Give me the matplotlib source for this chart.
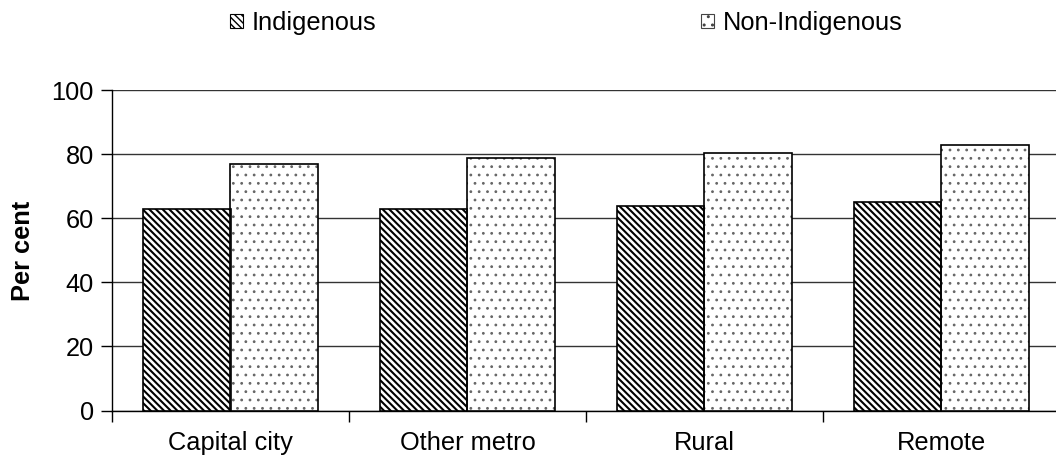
import matplotlib
matplotlib.use("Agg")
import matplotlib.pyplot as plt
import numpy as np
from matplotlib.patches import Patch

plt.rcParams['font.family'] = ['Liberation Sans', 'DejaVu Sans']

categories = ["Capital city", "Other metro", "Rural", "Remote"]
series_names = ["Indigenous", "Non-Indigenous"]
indigenous = [63, 63, 64, 65]
non_indigenous = [77, 79, 80.5, 83]
y_ticks = [0, 20, 40, 60, 80, 100]

FS = 18.3
STRIPES = "\\" * 5
DOTS = ".."

W, H = 1056, 461
fig = plt.figure(figsize=(W / 100, H / 100), dpi=100)
ax = fig.add_axes([112 / W, (H - 410.5) / H, 948 / W, 320.2 / H])

x = np.arange(len(categories))
bw = 0.37

# Indigenous: dense diagonal stripes
with plt.rc_context({'hatch.linewidth': 1.5}):
    ax.bar(x - bw / 2, indigenous, bw, color="white", edgecolor="black",
           hatch=STRIPES, linewidth=0, zorder=3)
    h1 = Patch(facecolor="white", edgecolor="black", hatch=STRIPES, linewidth=0.8)
ax.bar(x - bw / 2, indigenous, bw, fill=False, edgecolor="black",
       linewidth=1.2, zorder=4)

# Non-Indigenous: fine dotted fill
with plt.rc_context({'hatch.linewidth': 0.8}):
    ax.bar(x + bw / 2, non_indigenous, bw, color="white", edgecolor="#666666",
           hatch=DOTS, linewidth=0, zorder=3)
    h2 = Patch(facecolor="white", edgecolor="#444444", hatch=DOTS, linewidth=0.8)
ax.bar(x + bw / 2, non_indigenous, bw, fill=False, edgecolor="black",
       linewidth=1.2, zorder=4)

ax.set_xlim(-0.5, len(categories) - 0.5)
ax.set_ylim(0, 100)
ax.set_yticks(y_ticks)
ax.set_yticklabels([str(v) for v in y_ticks])
ax.yaxis.grid(True, color="#333333", linewidth=1.0, zorder=0)
ax.set_axisbelow(True)

ax.set_xticks(np.arange(len(categories) + 1) - 0.5)
ax.set_xticklabels([])
ax.set_xticks(x, minor=True)
ax.set_xticklabels(categories, minor=True)
ax.tick_params(axis="x", which="major", length=8, width=1.0, direction="out")
ax.tick_params(axis="x", which="minor", length=0, pad=15, labelsize=FS)
ax.tick_params(axis="y", length=8, width=1.0, direction="out", pad=5, labelsize=FS)

for s in ["top", "right"]:
    ax.spines[s].set_visible(False)
ax.spines["left"].set_linewidth(1.0)
ax.spines["bottom"].set_linewidth(1.0)

ax.set_ylabel("Per cent", fontsize=FS, fontweight="bold", labelpad=12)

fig.legend([h1, h2], series_names, loc="center", bbox_to_anchor=(566.5 / W, 1 - 23 / H),
           ncol=2, frameon=False, fontsize=FS, handlelength=0.5, handleheight=0.5,
           handletextpad=0.35, columnspacing=12.77, borderpad=0)

fig.savefig("out.png", dpi=100)
